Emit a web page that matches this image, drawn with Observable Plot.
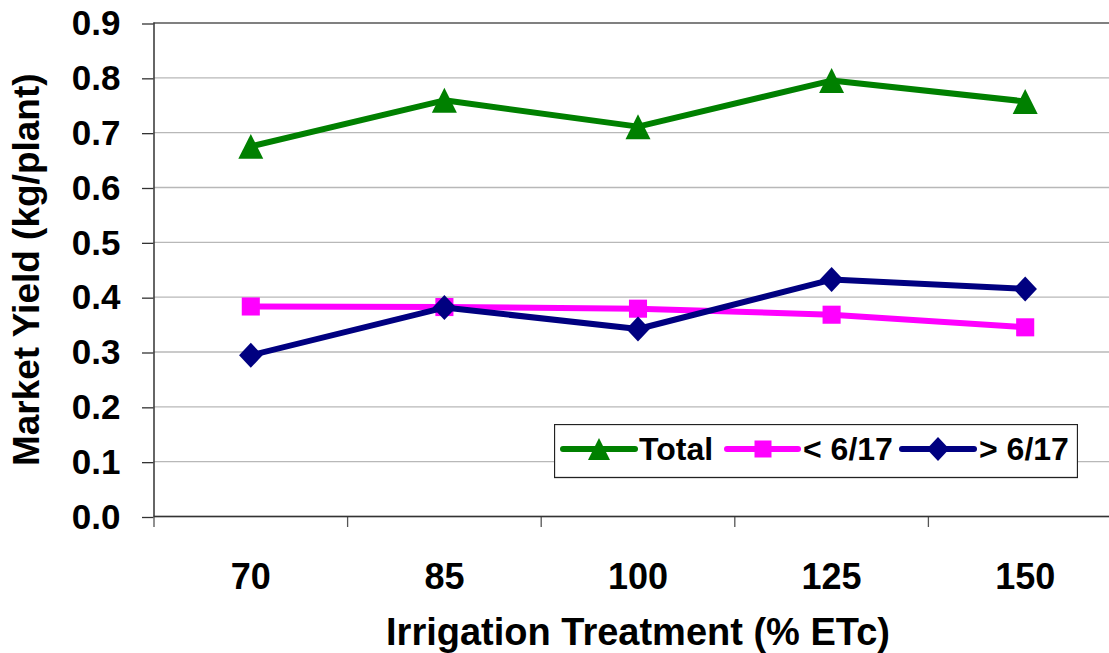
<!DOCTYPE html>
<html>
<head>
<meta charset="utf-8">
<script src="https://cdn.jsdelivr.net/npm/d3@7"></script>
<script src="https://cdn.jsdelivr.net/npm/@observablehq/plot@0.6"></script>
<style>
  html, body { margin: 0; padding: 0; background: white; }
  #wrap { position: relative; width: 1109px; height: 653px; overflow: hidden; }
  #legend { position: absolute; left: 554px; top: 424px; }
</style>
</head>
<body>
<div id="wrap"></div>
<script>
// ---- data ----
const categories = ["70", "85", "100", "125", "150"];
const seriesNames = ["Total", "< 6/17", "> 6/17"];
const seriesColors = ["#008000", "#FF00FF", "#000080"];
const totalYield = [0.675, 0.759, 0.711, 0.795, 0.757];
const earlyYield = [0.383, 0.382, 0.379, 0.368, 0.345];
const lateYield  = [0.294, 0.381, 0.342, 0.432, 0.415];
const yTicks = [0, 0.1, 0.2, 0.3, 0.4, 0.5, 0.6, 0.7, 0.8, 0.9];
const xTitle = "Irrigation Treatment (% ETc)";
const yTitle = "Market Yield (kg/plant)";

// ---- symbols (centered on bounding box, like Excel markers) ----
const triSym = {draw(c, size) { const s = Math.sqrt(size); c.moveTo(0, -s / 2); c.lineTo(s / 2, s / 2); c.lineTo(-s / 2, s / 2); c.closePath(); }};
const sqSym = {draw(c, size) { const s = Math.sqrt(size); c.rect(-s / 2, -s / 2, s, s); }};
const diaSym = {draw(c, size) { const s = Math.sqrt(size); const w = s * 0.47; c.moveTo(0, -s / 2); c.lineTo(w, 0); c.lineTo(0, s / 2); c.lineTo(-w, 0); c.closePath(); }};
const seriesSymbols = [triSym, sqSym, diaSym];
const seriesR = [14.1, 10.2, 14.1];

const seriesValues = [totalYield, earlyYield, lateYield];
const rows = [];
seriesNames.forEach((name, s) => {
  categories.forEach((cat, i) => rows.push({series: name, i, cat, value: seriesValues[s][i]}));
});

const font = "'Liberation Sans', Arial, sans-serif";

const seriesMarks = seriesNames.flatMap((name, s) => {
  const d = rows.filter(r => r.series === name);
  return [
    Plot.line(d, {x: "i", y: "value", stroke: seriesColors[s], strokeWidth: 6, strokeLinejoin: "round", strokeLinecap: "round"}),
    Plot.dot(d, {x: "i", y: "value", fill: seriesColors[s], stroke: "none", symbol: seriesSymbols[s], r: seriesR[s]})
  ];
});

const chart = Plot.plot({
  width: 1109,
  height: 653,
  marginLeft: 153.5,
  marginRight: -12.5,
  marginTop: 22.5,
  marginBottom: 137,
  x: {type: "linear", domain: [-0.5, categories.length - 0.5]},
  y: {domain: [0, 0.9]},
  style: {fontFamily: font, fontWeight: "bold", color: "black", background: "white", overflow: "hidden"},
  marks: [
    Plot.gridY(yTicks, {stroke: "#b8b8b8", strokeOpacity: 1, strokeWidth: 1.3}),
    Plot.ruleY([0.9], {stroke: "#808080", strokeWidth: 2}),
    Plot.axisY(yTicks, {tickSize: 11.5, tickPadding: 22, tickFormat: d => d.toFixed(1), fontSize: 35, fontWeight: "bold", dy: 1, stroke: "#333", strokeWidth: 1.3, label: null}),
    Plot.axisX(d3.range(-0.5, categories.length, 1), {tickSize: 11, tickFormat: () => "", stroke: "#555", strokeWidth: 1.3, label: null}),
    Plot.axisX(categories.map((c, i) => i), {tickSize: 0, tickPadding: 47, tickFormat: i => categories[i], fontSize: 36, fontWeight: "bold", label: null}),
    Plot.ruleX([-0.5], {stroke: "#333", strokeWidth: 1.5}),
    Plot.ruleY([0], {stroke: "#333", strokeWidth: 1.5}),
    Plot.text([xTitle], {frameAnchor: "bottom", textAnchor: "middle", dy: 128, fontSize: 38, fontWeight: "bold", fill: "black"}),
    Plot.text([yTitle], {frameAnchor: "left", textAnchor: "middle", rotate: -90, dx: -127, fontSize: 37, fontWeight: "bold", fill: "black"}),
    ...seriesMarks
  ]
});

const wrap = document.getElementById("wrap");
wrap.appendChild(chart);

// ---- legend (overlay inside the plot area) ----
const legendItems = [
  {line: [9, 81], sym: 45, symSize: 22, text: 85},
  {line: [173, 244], sym: 209, symSize: 17, text: 249},
  {line: [348, 420], sym: 384, symSize: 24, text: 425}
];
const lg = d3.create("svg").attr("id", "legend").attr("width", 524).attr("height", 55)
  .style("font-family", font).style("font-weight", "bold");
lg.append("rect").attr("x", 0.5).attr("y", 0.5).attr("width", 523).attr("height", 53)
  .attr("fill", "white").attr("stroke", "#222").attr("stroke-width", 1.3);
seriesNames.forEach((name, s) => {
  const it = legendItems[s];
  lg.append("line").attr("x1", it.line[0]).attr("x2", it.line[1]).attr("y1", 25).attr("y2", 25)
    .attr("stroke", seriesColors[s]).attr("stroke-width", 6).attr("stroke-linecap", "round");
  lg.append("path").attr("transform", `translate(${it.sym},25)`)
    .attr("d", d3.symbol(seriesSymbols[s], it.symSize * it.symSize)())
    .attr("fill", seriesColors[s]);
  lg.append("text").attr("x", it.text).attr("y", 36).attr("font-size", 32).attr("fill", "black").text(name);
});
wrap.appendChild(lg.node());
</script>
</body>
</html>
